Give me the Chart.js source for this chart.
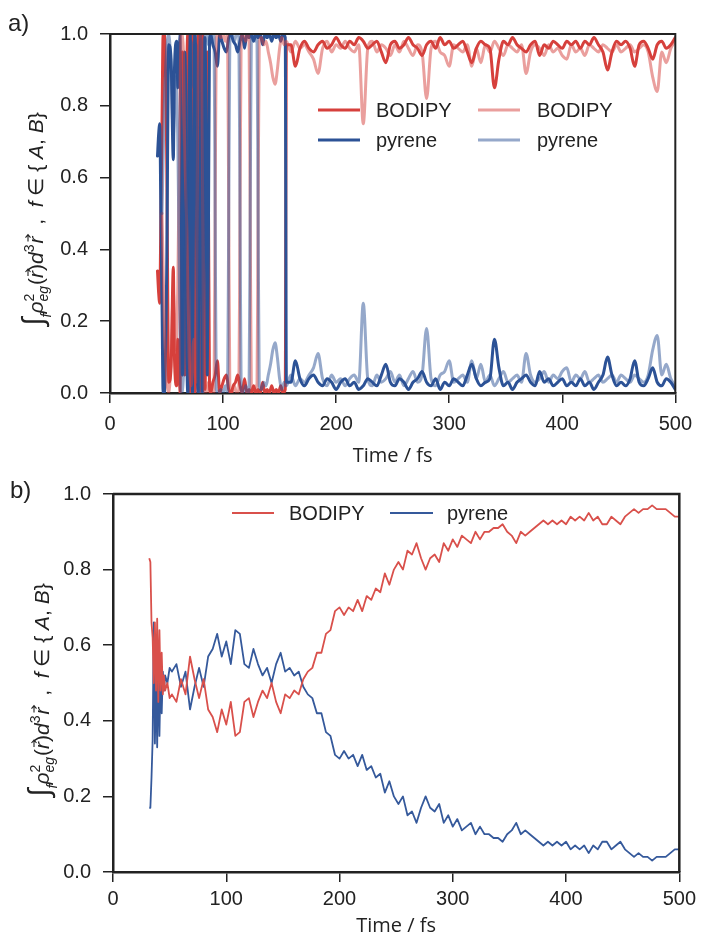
<!DOCTYPE html>
<html>
<head>
<meta charset="utf-8">
<script src="https://cdn.jsdelivr.net/npm/chart.js@4.4.1/dist/chart.umd.min.js"></script>
<style>
  html, body { margin: 0; padding: 0; background: #fff; }
  #wrap { position: relative; width: 701px; height: 936px; }
  .panel { position: absolute; left: 0; }
</style>
</head>
<body>
<div id="wrap">
  <div class="panel" style="top:0;width:701px;height:470px"><canvas id="chartA" width="701" height="470"></canvas></div>
  <div class="panel" style="top:470px;width:701px;height:466px"><canvas id="chartB" width="701" height="466"></canvas></div>
</div>
<script>
// ---- data: panel a (two trajectories, dark + light) ----
const tailTimes = [160,164,168,172,176,180,184,188,192,196,200,204,208,212,216,220,224,228,232,236,
  240,244,248,252,256,260,264,268,272,276,280,284,288,292,296,300,304,308,312,316,
  320,324,328,332,336,340,344,348,352,356,360,364,368,372,376,380,384,388,392,396,
  400,404,408,412,416,420,424,428,432,436,440,444,448,452,456,460,464,468,472,476,
  480,484,488,492,496,500];

const timeDarkEarly = [42,43,44,45,46,47,48,50,52,54,56,57,59,60,
  61,62,63,64,65,66,67,68,69,70,71,72,73,74,75,76,77,78,79,80,81,82,83,84,85,86,87,88,
  89,91,93,95,97,99,101,103,105,107,109,111,113,115,117,119,121,123,125,127,129,131,133,135,137,139,141,143,145,147,149,151,153,155,156];

const pyreneDark = [0.66,0.72,0.75,0.5,0.25,0.0,0.0,0.3,0.97,0.93,0.65,0.9,0.98,0.85,
  0.9,1.0,0.6,0.05,0.3,0.95,0.8,0.1,0.0,0.7,1.0,0.4,0.0,0.6,1.0,0.9,0.2,0.0,0.8,1.0,0.3,0.0,0.5,0.99,0.7,0.05,0.4,0.98,
  1.0,0.97,0.95,0.91,1.0,0.98,0.96,0.95,0.99,1.0,0.98,0.97,0.95,0.98,1.0,0.96,1.0,0.99,1.0,0.98,1.0,0.99,1.0,0.97,1.0,0.99,1.0,0.98,1.0,0.99,1.0,0.98,1.0,0.99,0.03,
  // tail
  0.03,0.09,0.04,0.02,0.04,0.05,0.03,0.02,0.04,0.03,
  0.01,0.03,0.04,0.02,0.03,0.01,0.02,0.04,0.03,0.02,
  0.05,0.08,0.03,0.02,0.04,0.03,0.01,0.03,0.04,0.06,
  0.03,0.02,0.04,0.01,0.03,0.02,0.04,0.03,0.02,0.05,
  0.08,0.04,0.02,0.03,0.04,0.15,0.07,0.02,0.03,0.01,
  0.03,0.04,0.05,0.03,0.02,0.06,0.03,0.04,0.02,0.03,
  0.04,0.02,0.03,0.02,0.04,0.02,0.03,0.01,0.03,0.05,
  0.10,0.05,0.02,0.03,0.02,0.04,0.09,0.03,0.02,0.04,
  0.07,0.03,0.02,0.04,0.03,0.01];

const bodipyDark = [0.34,0.28,0.25,0.5,0.75,1.0,1.0,0.7,0.03,0.07,0.35,0.1,0.02,0.15,
  0.1,0.0,0.4,0.95,0.7,0.05,0.2,0.9,1.0,0.3,0.0,0.6,1.0,0.4,0.0,0.1,0.8,1.0,0.2,0.0,0.7,1.0,0.5,0.01,0.3,0.95,0.6,0.02,
  0.0,0.03,0.05,0.09,0.0,0.02,0.04,0.05,0.01,0.0,0.02,0.03,0.05,0.02,0.0,0.04,0.0,0.01,0.0,0.02,0.0,0.01,0.0,0.03,0.0,0.01,0.0,0.02,0.0,0.01,0.0,0.02,0.0,0.01,0.97,
  // tail
  0.97,0.91,0.96,0.98,0.96,0.95,0.97,0.98,0.96,0.97,
  0.99,0.97,0.96,0.98,0.97,0.99,0.98,0.96,0.97,0.98,
  0.95,0.92,0.97,0.98,0.96,0.97,0.99,0.97,0.96,0.94,
  0.97,0.98,0.96,0.99,0.97,0.98,0.96,0.97,0.98,0.95,
  0.92,0.96,0.98,0.97,0.96,0.85,0.93,0.98,0.97,0.99,
  0.97,0.96,0.95,0.97,0.98,0.94,0.97,0.96,0.98,0.97,
  0.96,0.98,0.97,0.98,0.96,0.98,0.97,0.99,0.97,0.95,
  0.90,0.95,0.98,0.97,0.98,0.96,0.91,0.97,0.98,0.96,
  0.93,0.97,0.98,0.96,0.97,0.99];

const timeLightEarly = [46,48,50,52,54,56,58,60,62,63,65,66,68,70,72,74,76,77,78,80,
  81,82,83,85,87,89,91,92,93,94,96,98,100,102,104,105,106,108,110,112,
  114,115,116,118,120,122,123,124,125,127,129,130,131,132,134,136,138,140,142,144,
  146,148,150,152,154,156];

const bodipyLight = [0.5,0.2,0.05,0.0,0.1,0.28,0.12,0.3,0.85,1.0,
  0.95,0.7,0.45,0.1,0.02,0.15,0.03,0.5,0.98,1.0,
  0.99,0.5,0.02,0.0,0.03,0.0,0.01,0.0,0.5,0.99,
  1.0,0.99,1.0,0.98,1.0,0.5,0.01,0.0,0.02,0.0,
  0.01,0.5,0.99,1.0,0.98,1.0,0.99,0.5,0.01,0.0,
  0.02,0.0,0.5,0.98,0.99,0.97,0.98,0.95,0.92,0.88,
  0.86,0.9,0.96,0.99,0.97,0.98,
  // tail
  0.95,0.98,0.96,0.97,0.95,0.93,0.89,0.96,0.98,0.95,
  0.97,0.96,0.98,0.96,0.95,0.97,0.75,0.96,0.98,0.95,
  0.97,0.96,0.94,0.97,0.95,0.98,0.96,0.94,0.97,0.95,
  0.82,0.96,0.98,0.95,0.94,0.91,0.97,0.96,0.95,0.97,
  0.91,0.96,0.92,0.97,0.95,0.98,0.96,0.94,0.97,0.96,
  0.95,0.97,0.89,0.95,0.97,0.96,0.94,0.97,0.95,0.96,
  0.94,0.93,0.97,0.95,0.96,0.94,0.97,0.96,0.95,0.97,
  0.96,0.95,0.97,0.95,0.96,0.97,0.95,0.96,0.97,0.95,
  0.88,0.84,0.95,0.92,0.96,0.98];

const pyreneLight = [0.5,0.8,0.95,1.0,0.9,0.72,0.88,0.7,0.15,0.0,
  0.05,0.3,0.55,0.9,0.98,0.85,0.97,0.5,0.02,0.0,
  0.01,0.5,0.98,1.0,0.97,1.0,0.99,1.0,0.5,0.01,
  0.0,0.01,0.0,0.02,0.0,0.5,0.99,1.0,0.98,1.0,
  0.99,0.5,0.01,0.0,0.02,0.0,0.01,0.5,0.99,1.0,
  0.98,1.0,0.5,0.02,0.01,0.03,0.02,0.05,0.08,0.12,
  0.14,0.1,0.04,0.01,0.03,0.02,
  // tail
  0.05,0.02,0.04,0.03,0.05,0.07,0.11,0.04,0.02,0.05,
  0.03,0.04,0.02,0.04,0.05,0.03,0.25,0.04,0.02,0.05,
  0.03,0.04,0.06,0.03,0.05,0.02,0.04,0.06,0.03,0.05,
  0.18,0.04,0.02,0.05,0.06,0.09,0.03,0.04,0.05,0.03,
  0.09,0.04,0.08,0.03,0.05,0.02,0.04,0.06,0.03,0.04,
  0.05,0.03,0.11,0.05,0.03,0.04,0.06,0.03,0.05,0.04,
  0.06,0.07,0.03,0.05,0.04,0.06,0.03,0.04,0.05,0.03,
  0.04,0.05,0.03,0.05,0.04,0.03,0.05,0.04,0.03,0.05,
  0.12,0.16,0.05,0.08,0.04,0.02];

// ---- data: panel b (average) ----
const timeB = [32,33,34,35,36,37,38,39,40,41,42,43,44,45,46,48,50,
  52,56,60,64,68,72,76,80,84,88, 92,96,100,104,108,112,116,120,124,128,
  132,136,140,144,148,152,156,160,164,168, 172,176,180,184,188,192,196,200,204,208,
  212,216,220,224,228,232,236,240,244,248, 252,256,260,264,268,272,276,280,284,288,
  292,296,300,304,308,312,316,320,324,328, 332,336,340,344,348,352,356,360,364,368,
  372,376,380,384,388,392,396,400,404,408, 412,416,420,424,428,432,436,440,444,448,
  452,456,460,464,468,472,476,480,484,488, 492,496,500];

const bodipyAvg = [0.83,0.82,0.66,0.62,0.50,0.66,0.48,0.67,0.45,0.64,0.48,0.58,0.47,0.52,0.48,0.50,0.46,
  0.47,0.45,0.51,0.47,0.57,0.51,0.46,0.51,0.43,0.41,
  0.37,0.43,0.39,0.45,0.36,0.37,0.45,0.46,0.41,0.45,
  0.48,0.46,0.50,0.45,0.42,0.47,0.46,0.48,0.47,0.51,
  0.53,0.54,0.58,0.58,0.63,0.64,0.69,0.70,0.68,0.70,
  0.69,0.72,0.69,0.73,0.72,0.75,0.74,0.79,0.76,0.80,
  0.82,0.80,0.85,0.84,0.87,0.83,0.80,0.83,0.84,0.82,
  0.87,0.85,0.88,0.86,0.89,0.88,0.87,0.90,0.88,0.90,
  0.90,0.91,0.91,0.92,0.90,0.89,0.87,0.90,0.89,0.90,
  0.91,0.92,0.93,0.92,0.93,0.92,0.93,0.92,0.94,0.93,
  0.94,0.93,0.95,0.93,0.94,0.92,0.92,0.94,0.93,0.92,
  0.94,0.95,0.96,0.95,0.96,0.96,0.97,0.96,0.96,0.96,
  0.95,0.94,0.94];

const pyreneAvg = [0.17,0.17,0.25,0.35,0.66,0.34,0.52,0.33,0.55,0.36,0.52,0.42,0.53,0.48,0.52,0.50,0.54,
  0.53,0.55,0.49,0.53,0.43,0.49,0.54,0.49,0.57,0.59,
  0.63,0.57,0.61,0.55,0.64,0.63,0.55,0.54,0.59,0.55,
  0.52,0.54,0.50,0.55,0.58,0.53,0.54,0.52,0.53,0.49,
  0.47,0.46,0.42,0.42,0.37,0.36,0.31,0.30,0.32,0.30,
  0.31,0.28,0.31,0.27,0.28,0.25,0.26,0.21,0.24,0.20,
  0.18,0.20,0.15,0.16,0.13,0.17,0.20,0.17,0.16,0.18,
  0.13,0.15,0.12,0.14,0.11,0.12,0.13,0.10,0.12,0.10,
  0.10,0.09,0.09,0.08,0.10,0.11,0.13,0.10,0.11,0.10,
  0.09,0.08,0.07,0.08,0.07,0.08,0.07,0.08,0.06,0.07,
  0.06,0.07,0.05,0.07,0.06,0.08,0.08,0.06,0.07,0.08,
  0.06,0.05,0.04,0.05,0.04,0.04,0.03,0.04,0.04,0.04,
  0.05,0.06,0.06];

const xTicks = [0, 100, 200, 300, 400, 500];
const yTicks = [0.0, 0.2, 0.4, 0.6, 0.8, 1.0];

// ---- styling ----
const SANS = '"Liberation Sans", Arial, Helvetica, sans-serif';
const INK = '#222';
const RED = '#d6403c';
const RED_LIGHT = 'rgba(214,64,60,0.5)';
const BLUE = '#2c5296';
const BLUE_LIGHT = 'rgba(44,82,150,0.5)';
const RED_B = '#d9504b';
const BLUE_B = '#35599b';

const timeDark = timeDarkEarly.concat(tailTimes);
const timeLight = timeLightEarly.concat(tailTimes);

function toPoints(times, values) {
  const n = Math.min(times.length, values.length);
  const pts = [];
  for (let i = 0; i < n; i++) pts.push({ x: times[i], y: values[i] });
  return pts;
}

function drawVec(ctx, x, w, y) {
  ctx.save();
  ctx.strokeStyle = INK;
  ctx.lineWidth = 1.1;
  ctx.beginPath();
  ctx.moveTo(x + 2, y);
  ctx.lineTo(x + w + 2, y);
  ctx.moveTo(x + w - 1, y - 2.5);
  ctx.lineTo(x + w + 2, y);
  ctx.lineTo(x + w - 1, y + 2.5);
  ctx.stroke();
  ctx.restore();
}

// y-axis title: ∫_f ρ²_eg(r→)d³r→ , f∈{ A, B}
function drawYTitle(ctx, cx, cy) {
  const M = 21, S = 14;
  const parts = [
    { t: '\u222B', size: 30 },
    { t: 'f', size: S, it: true, dy: 8 },
    { t: '\u03C1', size: M, it: true },
    { sup: '2', sub: 'eg', size: S },
    { t: '(', size: M },
    { t: 'r', size: M, it: true, vec: true },
    { t: ')', size: M },
    { t: 'd', size: M, it: true },
    { sup: '3', size: S },
    { t: 'r', size: M, it: true, vec: true },
    { t: '  ,  ', size: M },
    { t: 'f', size: M, it: true },
    { t: ' \u2208 { ', size: M },
    { t: 'A', size: M, it: true },
    { t: ', ', size: M },
    { t: 'B', size: M, it: true },
    { t: '}', size: M }
  ];
  const fontOf = p => (p.it ? 'italic ' : '') + p.size + 'px ' + SANS;
  ctx.save();
  let total = 0;
  parts.forEach(p => {
    if (p.t !== undefined) { ctx.font = fontOf(p); p.w = ctx.measureText(p.t).width; }
    else {
      ctx.font = p.size + 'px ' + SANS;
      const a = ctx.measureText(p.sup || '').width;
      ctx.font = 'italic ' + p.size + 'px ' + SANS;
      const b = ctx.measureText(p.sub || '').width;
      p.w = Math.max(a, b) + 1;
    }
    total += p.w;
  });
  ctx.translate(cx, cy);
  ctx.rotate(-Math.PI / 2);
  ctx.fillStyle = INK;
  ctx.textBaseline = 'alphabetic';
  let x = -total / 2;
  const base = 8;
  parts.forEach(p => {
    if (p.t !== undefined) {
      ctx.font = fontOf(p);
      ctx.fillText(p.t, x, base + (p.dy || 0));
      if (p.vec) drawVec(ctx, x, p.w, base - 15);
    } else {
      if (p.sup) { ctx.font = p.size + 'px ' + SANS; ctx.fillText(p.sup, x, base - 9); }
      if (p.sub) { ctx.font = 'italic ' + p.size + 'px ' + SANS; ctx.fillText(p.sub, x, base + 5); }
    }
    x += p.w;
  });
  ctx.restore();
}

function drawLegend(ctx, items, fontSize) {
  ctx.save();
  ctx.font = fontSize + 'px ' + SANS;
  ctx.textBaseline = 'middle';
  ctx.fillStyle = INK;
  items.forEach(it => {
    ctx.strokeStyle = it.color;
    ctx.lineWidth = it.lw;
    ctx.beginPath();
    ctx.moveTo(it.x1, it.y);
    ctx.lineTo(it.x2, it.y);
    ctx.stroke();
    ctx.fillText(it.text, it.tx, it.y + 1);
  });
  ctx.restore();
}

function frame(chart, lw) {
  const { ctx, chartArea: a } = chart;
  ctx.save();
  ctx.strokeStyle = INK;
  ctx.lineWidth = lw;
  ctx.beginPath();
  ctx.moveTo(a.left, a.top);
  ctx.lineTo(a.right, a.top);
  ctx.lineTo(a.right, a.bottom);
  ctx.stroke();
  ctx.restore();
}

function scaleOpts(axisW, axisH, titlePadBottom, xPad) {
  return {
    x: {
      type: 'linear', min: 0, max: 500,
      afterBuildTicks: s => { s.ticks = xTicks.map(v => ({ value: v })); },
      ticks: { color: INK, font: { family: SANS, size: 20 }, padding: xPad, maxRotation: 0 },
      grid: { drawOnChartArea: false, drawTicks: true, tickLength: 10, color: INK, lineWidth: 1.5 },
      border: { color: INK, width: 2.5 },
      title: { display: true, text: 'Time / fs', color: INK,
        font: { family: '"Open Sans", "DejaVu Sans", sans-serif', size: 20, lineHeight: 1.0 },
        padding: { top: 0, bottom: titlePadBottom } },
      afterFit: s => { s.height = axisH; }
    },
    y: {
      min: 0, max: 1,
      afterBuildTicks: s => { s.ticks = yTicks.map(v => ({ value: v })); },
      ticks: { color: INK, font: { family: SANS, size: 20 }, padding: 12,
        callback: v => Number(v).toFixed(1) },
      grid: { drawOnChartArea: false, drawTicks: true, tickLength: 10, color: INK, lineWidth: 1.5 },
      border: { color: INK, width: 2.5 },
      afterFit: s => { s.width = axisW; }
    }
  };
}

const lineA = { pointRadius: 0, fill: false, cubicInterpolationMode: 'monotone', clip: 0, borderJoinStyle: 'round', borderCapStyle: 'round', borderWidth: 3 };
const lineB = { pointRadius: 0, fill: false, tension: 0, clip: 0, borderJoinStyle: 'round', borderWidth: 1.8 };

// ---- panel a ----
const decorA = {
  id: 'decorA',
  afterDraw(chart) {
    const ctx = chart.ctx;
    frame(chart, 2);
    ctx.save();
    ctx.fillStyle = INK;
    ctx.font = '24px ' + SANS;
    ctx.fillText('a)', 8, 31);
    ctx.restore();
    drawYTitle(ctx, 35, 219);
    drawLegend(ctx, [
      { x1: 318, x2: 360, y: 110, color: RED, lw: 3, text: 'BODIPY', tx: 376 },
      { x1: 318, x2: 360, y: 140, color: BLUE, lw: 3, text: 'pyrene', tx: 376 },
      { x1: 478, x2: 520, y: 110, color: RED_LIGHT, lw: 3, text: 'BODIPY', tx: 537 },
      { x1: 478, x2: 520, y: 140, color: BLUE_LIGHT, lw: 3, text: 'pyrene', tx: 537 }
    ], 20);
  }
};

new Chart(document.getElementById('chartA'), {
  type: 'line',
  data: {
    datasets: [
      Object.assign({ label: 'BODIPY', data: toPoints(timeDark, bodipyDark), borderColor: RED, order: 4 }, lineA),
      Object.assign({ label: 'pyrene', data: toPoints(timeDark, pyreneDark), borderColor: BLUE, order: 3 }, lineA),
      Object.assign({ label: 'BODIPY', data: toPoints(timeLight, bodipyLight), borderColor: RED_LIGHT, order: 2 }, lineA),
      Object.assign({ label: 'pyrene', data: toPoints(timeLight, pyreneLight), borderColor: BLUE_LIGHT, order: 1 }, lineA)
    ]
  },
  options: {
    responsive: false,
    animation: false,
    layout: { padding: { top: 34, right: 19, left: 0, bottom: 0 } },
    plugins: { legend: { display: false }, tooltip: { enabled: false } },
    scales: scaleOpts(110, 77, 4, 9)
  },
  plugins: [decorA]
});

// ---- panel b ----
const decorB = {
  id: 'decorB',
  afterDraw(chart) {
    const ctx = chart.ctx;
    frame(chart, 2.5);
    ctx.save();
    ctx.fillStyle = INK;
    ctx.font = '24px ' + SANS;
    ctx.fillText('b)', 10, 28);
    ctx.restore();
    drawYTitle(ctx, 41, 220);
    drawLegend(ctx, [
      { x1: 232, x2: 274, y: 43, color: RED_B, lw: 2, text: 'BODIPY', tx: 289 },
      { x1: 390, x2: 433, y: 43, color: BLUE_B, lw: 2, text: 'pyrene', tx: 447 }
    ], 20);
  }
};

new Chart(document.getElementById('chartB'), {
  type: 'line',
  data: {
    datasets: [
      Object.assign({ label: 'BODIPY', data: toPoints(timeB, bodipyAvg), borderColor: RED_B }, lineB),
      Object.assign({ label: 'pyrene', data: toPoints(timeB, pyreneAvg), borderColor: BLUE_B }, lineB)
    ]
  },
  options: {
    responsive: false,
    animation: false,
    layout: { padding: { top: 21, right: 17, left: 0, bottom: 0 } },
    plugins: { legend: { display: false }, tooltip: { enabled: false } },
    scales: scaleOpts(113, 64, 0, 5)
  },
  plugins: [decorB]
});
</script>
</body>
</html>
